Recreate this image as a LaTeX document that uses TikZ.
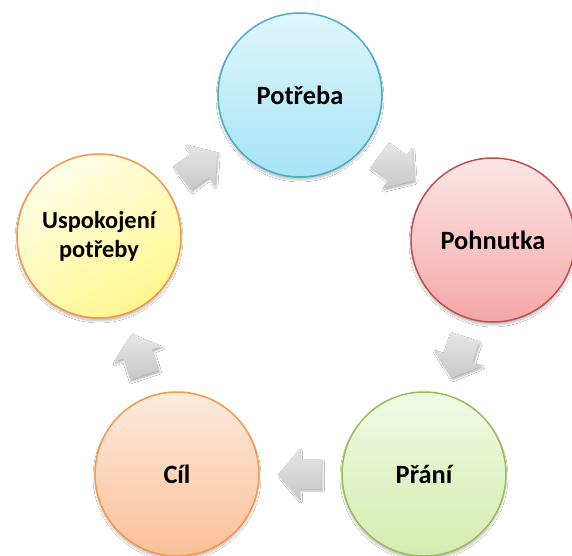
\documentclass[tikz,border=0pt]{standalone}
\usepackage{fontspec}
\setmainfont{Carlito}
\usetikzlibrary{calc,shadows.blur}
\definecolor{bluebd}{RGB}{75,172,198}
\definecolor{bluetop}{RGB}{224,246,252}
\definecolor{bluebot}{RGB}{165,228,246}
\definecolor{redbd}{RGB}{192,80,77}
\definecolor{redtop}{RGB}{252,230,230}
\definecolor{redbot}{RGB}{244,167,166}
\definecolor{greenbd}{RGB}{155,187,89}
\definecolor{greentop}{RGB}{241,249,228}
\definecolor{greenbot}{RGB}{213,237,176}
\definecolor{orangebd}{RGB}{247,150,70}
\definecolor{orangetop}{RGB}{253,235,221}
\definecolor{orangebot}{RGB}{251,192,151}
\definecolor{yellowtop}{RGB}{255,254,232}
\definecolor{yellowbot}{RGB}{255,246,143}
\definecolor{arrtop}{RGB}{230,230,230}
\definecolor{arrbot}{RGB}{200,200,200}
\tikzset{
  bubble/.style={circle, minimum size=164bp, inner sep=0pt, line width=1.5bp,
    align=center, font=\fontsize{26.5}{27}\selectfont\bfseries,
    blur shadow={shadow xshift=0bp, shadow yshift=-3bp, shadow blur steps=6, shadow opacity=25}},
  smalltext/.style={font=\fontsize{24.5}{29}\selectfont\bfseries},
  cyarrow/.pic={
    \path[top color=arrtop, bottom color=arrbot, shading angle=0,
      blur shadow={shadow xshift=1bp, shadow yshift=-2bp, shadow blur steps=4, shadow opacity=30}]
      (-21,-15) -- (1,-15) -- (1,-25) -- (22,0) -- (1,25) -- (1,15) -- (-21,15) -- cycle;
  }
}
\begin{document}
\begin{tikzpicture}[x=1bp,y=-1bp]
\useasboundingbox[fill=white] (0,0) rectangle (572,556);
\node[bubble, draw=bluebd, top color=bluetop, bottom color=bluebot] (p1) at (300,95) {Potřeba};
\node[bubble, draw=redbd, top color=redtop, bottom color=redbot] (p2) at (493,240) {Pohnutka};
\node[bubble, draw=greenbd, top color=greentop, bottom color=greenbot] (p3) at (424,474) {Přání};
\node[bubble, draw=orangebd, top color=orangetop, bottom color=orangebot] (p4) at (177,474) {Cíl};
\node[bubble, smalltext, draw=orangebd, top color=yellowtop, bottom color=yellowbot, shading angle=30] (p5) at (99,236) {Uspokojení\\potřeby};
\pic[rotate=-36] at ($(p1)!0.5!(p2)$) {cyarrow};
\pic[rotate=-108] at ($(p2)!0.5!(p3)$) {cyarrow};
\pic[rotate=180] at ($(p3)!0.5!(p4)$) {cyarrow};
\pic[rotate=108] at ($(p4)!0.5!(p5)$) {cyarrow};
\pic[rotate=36] at ($(p5)!0.5!(p1)$) {cyarrow};
\end{tikzpicture}
\end{document}
